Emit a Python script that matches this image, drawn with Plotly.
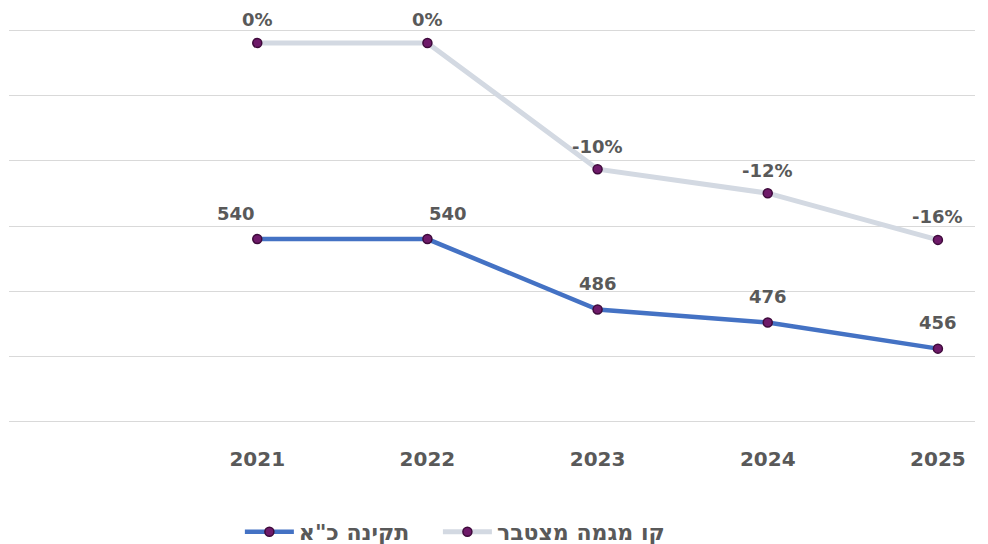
import plotly.graph_objects as go

years = [2021, 2022, 2023, 2024, 2025]
staffing = [540, 540, 486, 476, 456]
trend = [0.0, 0.0, -0.100, -0.119, -0.156]
staffing_name = 'תקינה כ"א'
trend_name = "קו מגמה מצטבר"
staffing_labels = ["540", "540", "486", "476", "456"]
trend_labels = ["0%", "0%", "-10%", "-12%", "-16%"]
staffing_anchor = ["right", "left", "center", "center", "center"]

BLUE = "#4472C4"
GREY = "#D3D9E2"
MARK = "#6E1A69"
MARK_EDGE = "#3E0A3B"
TXT = "#595959"
FONT = "DejaVu Sans"

fig = go.Figure()
fig.add_trace(go.Scatter(
    x=years, y=staffing, name=staffing_name, mode="lines+markers",
    line=dict(color=BLUE, width=4.5),
    marker=dict(color=MARK, size=9, line=dict(color=MARK_EDGE, width=1.5)),
    yaxis="y", legend="legend",
))
fig.add_trace(go.Scatter(
    x=years, y=trend, name=trend_name, mode="lines+markers",
    line=dict(color=GREY, width=5),
    marker=dict(color=MARK, size=9, line=dict(color=MARK_EDGE, width=1.5)),
    yaxis="y2", legend="legend2",
))

for x, y, t, a in zip(years, staffing, staffing_labels, staffing_anchor):
    fig.add_annotation(x=x, y=y, xref="x", yref="y", text=t, showarrow=False,
                       xanchor=a, yanchor="middle", yshift=26,
                       font=dict(family=FONT, size=18, color=TXT, weight="bold"))
for x, y, t in zip(years, trend, trend_labels):
    fig.add_annotation(x=x, y=y, xref="x", yref="y2", text=t, showarrow=False,
                       xanchor="center", yanchor="middle", yshift=23,
                       font=dict(family=FONT, size=18, color=TXT, weight="bold"))

legend_style = dict(orientation="h", xanchor="left", y=-0.2766, yanchor="middle",
                    itemwidth=49,
                    font=dict(family=FONT, size=22, color=TXT, weight="bold"),
                    bgcolor="rgba(0,0,0,0)")

fig.update_layout(
    width=980, height=560,
    margin=dict(l=1, r=13, t=21, b=145),
    paper_bgcolor="white", plot_bgcolor="white",
    font=dict(family=FONT, color=TXT),
    showlegend=True,
    legend=dict(x=0.239, **legend_style),
    legend2=dict(x=0.444, **legend_style),
    xaxis=dict(range=[2019.541, 2025.218], tickvals=years, ticktext=[str(y) for y in years],
               showgrid=False, zeroline=False, showline=False, ticks="",
               ticklabelstandoff=22,
               tickfont=dict(family=FONT, size=20, color=TXT, weight="bold")),
    yaxis=dict(range=[399, 701], dtick=50, tick0=400, showgrid=True, gridcolor="#D9D9D9",
               gridwidth=1, zeroline=False, showline=False, showticklabels=False, ticks=""),
    yaxis2=dict(range=[-0.301033, 0.011033], overlaying="y", side="right", showgrid=False,
                zeroline=False, showline=False, showticklabels=False, ticks=""),
)

fig.write_html("out.html")
